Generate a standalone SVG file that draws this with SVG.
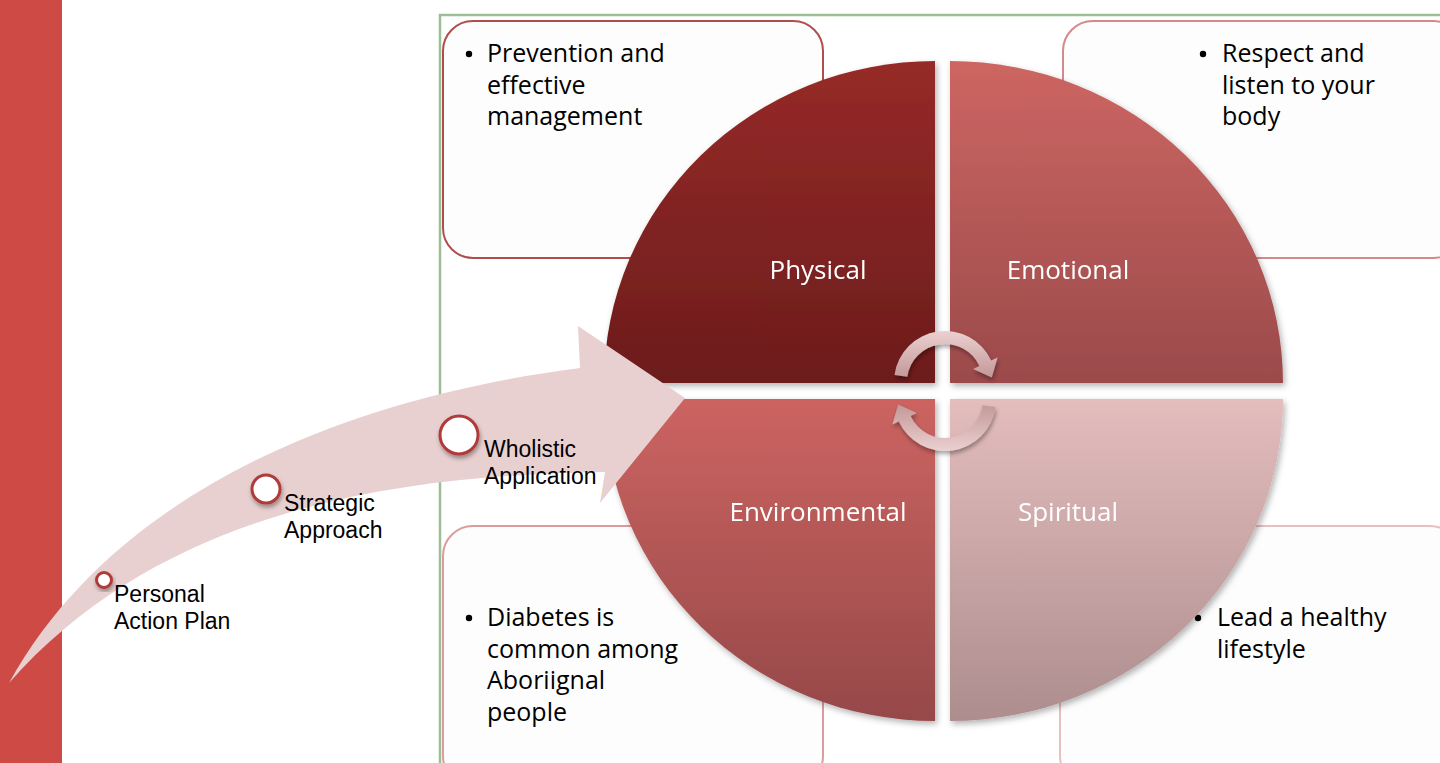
<svg xmlns="http://www.w3.org/2000/svg" width="1440" height="763" viewBox="0 0 1440 763">
<defs>
<style>
.box{fill:#fdfdfd;stroke-width:2}
.bt{font-family:"Open Sans","Liberation Sans",sans-serif;font-size:25px;fill:#000}
.ql{font-family:"Open Sans","Liberation Sans",sans-serif;font-size:26px;fill:#fff;text-anchor:middle}
.lb{font-family:"Liberation Sans","Open Sans",sans-serif;font-size:23px;fill:#000}
.dot{fill:#fff;stroke:#b03a3a;stroke-width:3}
</style>
<linearGradient id="gPhy" x1="0" y1="0" x2="0" y2="1"><stop offset="0" stop-color="#962a28"/><stop offset="1" stop-color="#6c1c1c"/></linearGradient>
<linearGradient id="gEmo" x1="0" y1="0" x2="0" y2="1"><stop offset="0" stop-color="#cd6662"/><stop offset="1" stop-color="#9b4a4b"/></linearGradient>
<linearGradient id="gEnv" x1="0" y1="0" x2="0" y2="1"><stop offset="0" stop-color="#cc6461"/><stop offset="1" stop-color="#964849"/></linearGradient>
<linearGradient id="gSpi" x1="0" y1="0" x2="0" y2="1"><stop offset="0" stop-color="#e4bdbd"/><stop offset="1" stop-color="#ad8d8e"/></linearGradient>
<linearGradient id="gRot" x1="0" y1="0" x2="0" y2="1"><stop offset="0" stop-color="#ecd0d0"/><stop offset="1" stop-color="#c39898"/></linearGradient>
<filter id="sh" x="-10%" y="-10%" width="120%" height="120%"><feDropShadow dx="2" dy="3" stdDeviation="3" flood-color="#000" flood-opacity="0.3"/></filter>
<filter id="sh2" x="-30%" y="-30%" width="160%" height="160%"><feDropShadow dx="1" dy="3" stdDeviation="2" flood-color="#000" flood-opacity="0.35"/></filter>
</defs>
<rect width="1440" height="763" fill="#fff"/>
<rect x="0" y="0" width="62" height="763" fill="#cd4a45"/>
<g id="frame" fill="none" stroke="#9cbf95" stroke-width="2.5">
<path d="M440,763 V15 H1440"/>
</g>
<g id="box-physical"><rect class="box" x="443" y="21" width="380" height="237" rx="30" stroke="#b04e4e"/>
<circle cx="469" cy="54" r="3.2"/>
<text class="bt" x="487" y="62">Prevention and</text><text class="bt" x="487" y="93.5">effective</text><text class="bt" x="487" y="125">management</text></g>
<g id="box-emotional"><rect class="box" x="1063" y="21" width="400" height="237" rx="30" stroke="#d58a8a"/>
<circle cx="1203" cy="54" r="3.2"/>
<text class="bt" x="1222" y="62">Respect and</text><text class="bt" x="1222" y="93.5">listen to your</text><text class="bt" x="1222" y="125">body</text></g>
<g id="box-environmental"><rect class="box" x="443" y="526" width="380" height="260" rx="30" stroke="#dc9c9c"/>
<circle cx="469" cy="618" r="3.2"/>
<text class="bt" x="487" y="626">Diabetes is</text><text class="bt" x="487" y="657.5">common among</text><text class="bt" x="487" y="689">Aboriignal</text><text class="bt" x="487" y="720.5">people</text></g>
<g id="box-spiritual"><rect class="box" x="1060" y="526" width="400" height="260" rx="30" stroke="#e8c0c0"/>
<circle cx="1198" cy="618" r="3.2"/>
<text class="bt" x="1217" y="626">Lead a healthy</text><text class="bt" x="1217" y="657.5">lifestyle</text></g>
<g id="physical" filter="url(#sh)"><path d="M935,383 H604 A331,322 0 0 1 935,61 Z" fill="url(#gPhy)"/><text class="ql" x="818" y="279">Physical</text></g>
<g id="emotional" filter="url(#sh)"><path d="M950,383 V61 A333,322 0 0 1 1283,383 Z" fill="url(#gEmo)"/><text class="ql" x="1068" y="279">Emotional</text></g>
<g id="environmental" filter="url(#sh)"><path d="M935,399 H604 A331,322 0 0 0 935,721 Z" fill="url(#gEnv)"/><text class="ql" x="818" y="521">Environmental</text></g>
<g id="spiritual" filter="url(#sh)"><path d="M950,399 V721 A333,322 0 0 0 1283,399 Z" fill="url(#gSpi)"/><text class="ql" x="1068" y="521">Spiritual</text></g>
<g id="connectors">
<g id="cycle" fill="url(#gRot)" filter="url(#sh2)">
<path d="M894.5,374.9 A51,51 0 0 1 991.2,360.4 L997.6,357.5 L991.8,377.5 L973.1,368.9 L979.4,365.9 A38,38 0 0 0 907.4,376.7 Z"/>
<path transform="rotate(180 945 391)" d="M894.5,374.9 A51,51 0 0 1 991.2,360.4 L997.6,357.5 L991.8,377.5 L973.1,368.9 L979.4,365.9 A38,38 0 0 0 907.4,376.7 Z"/>
</g>
<path id="progress-arrow" d="M9,683 C110,500 330,400 580,368 L578,326 L685,398 L600,503 L605,472 C420,475 170,500 9,683 Z" fill="#e8d0d0"/>
</g>
<g id="step-personal"><circle class="dot" cx="104" cy="580" r="7.5" filter="url(#sh2)"/><text class="lb" x="114" y="602">Personal</text><text class="lb" x="114" y="629">Action Plan</text></g>
<g id="step-strategic"><circle class="dot" cx="266" cy="489" r="14" filter="url(#sh2)"/><text class="lb" x="284" y="511">Strategic</text><text class="lb" x="284" y="538">Approach</text></g>
<g id="step-wholistic"><circle class="dot" cx="459" cy="435" r="19" filter="url(#sh2)"/><text class="lb" x="484" y="457">Wholistic</text><text class="lb" x="484" y="484">Application</text></g>
</svg>
